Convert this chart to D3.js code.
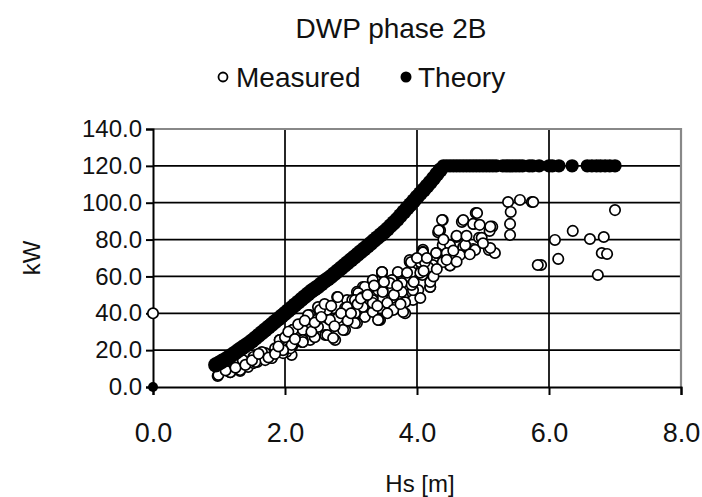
<!DOCTYPE html>
<meta charset="utf-8">
<head>
<title>DWP phase 2B</title>
<script src="https://cdn.jsdelivr.net/npm/d3@7"></script>
<style>
body { margin: 0; background: #fff; }
text { font-family: "Liberation Sans", Arial, sans-serif; fill: #111; }
</style>
</head>
<body>
<script>

// Hs [m] and kW
var measuredHs = [0,
  0.98,1.17,1.32,1.44,1.58,1.80,1.95,2.12,2.10,2.02,2.23,2.12,2.27,1.70,1.62,1.85,1.39,1.09,1.24,1.52,
  0.99,1.17,1.32,1.52,1.80,1.95,2.08,2.26,2.38,2.50,2.64,2.79,2.79,2.61,2.76,2.91,3.09,3.18,3.33,3.44,
  3.47,3.64,3.62,3.82,3.89,3.89,4.02,4.20,4.09,4.35,4.39,4.30,4.50,1.92,2.23,1.97,1.70,1.36,2.50,2.18,
  2.38,2.94,3.03,3.29,3.09,3.33,3.74,3.71,3.94,4.08,4.24,
  2.80,3.47,3.33,3.21,3.41,3.33,3.11,3.06,3.21,3.42,2.91,2.80,2.64,2.48,2.35,2.33,2.45,2.64,2.88,3.09,
  2.26,2.12,2.27,2.68,3.02,3.18,
  2.53,2.73,3.33,3.06,2.94,2.27,2.10,1.92,2.27,1.55,1.65,1.97,
  4.38,4.68,4.32,4.60,4.39,4.65,4.30,4.09,4.05,4.17,3.89,3.92,3.77,3.62,3.47,3.94,4.20,3.33,3.48,3.79,3.55,
  3.18,3.06,3.06,3.33,3.48,3.77,3.59,3.92,4.05,3.82,3.79,3.64,3.41,
  4.89,4.70,4.33,4.60,4.86,5.14,5.10,4.94,5.09,5.18,4.85,4.70,4.50,4.29,4.50,4.39,4.09,4.12,3.91,4.20,4.05,
  5.38,5.56,5.74,5.42,5.41,5.41,4.91,4.85,5.11,4.98,4.73,4.88,5.11,4.65,4.45,
  5.76,7.00,6.36,6.09,6.62,6.83,6.80,6.88,6.14,5.88,6.74,5.83,
  1.10,1.25,1.40,1.50,1.60,1.75,1.85,1.90,2.00,2.05,2.15,2.20,2.30,2.40,2.45,2.55,2.60,2.70,2.75,2.85,
  2.95,3.00,3.10,3.15,3.25,3.35,3.40,3.50,3.55,3.65,3.70,3.75,3.85,3.95,4.00,4.10,4.15,4.25,4.30,4.40,
  4.45,4.55,4.60,4.75,4.80,4.95,5.00];
var measuredKW = [40,
  6,8,8.7,10.9,13.6,15.7,25.5,22.8,17.4,19,29.3,31,32.6,18.4,16.3,21,13.6,11.9,13.6,16.3,
  6.5,8,9.2,13,15.7,24.4,21,24.4,39,32.6,37.4,48.8,37.4,28.2,25.5,31,38,54.3,48.8,36.4,
  62,58,48.3,40,67.8,59.7,52.6,54.3,74.4,85,90.6,72.7,66,25.5,30,18.4,14.6,14.6,43.4,28.2,
  25.5,47.2,43.4,42.9,51.6,57,51,62.4,47.2,60.8,66.2,
  48.8,62.4,57,54.3,52.6,47.2,51,41.8,38,36.4,42.9,37.4,41.8,36.4,39,32,27,28.2,31,34.7,
  24.4,31,31,36.4,47.2,43.4,
  41.8,26.6,40.7,47.2,43.4,25.5,22.8,25.5,24.4,13.6,19,20,
  90.6,89.6,84,81.4,77,72.7,72.7,73.3,67.8,65,68.9,62.4,56.4,58,62.4,52.6,54.3,58,52.6,48.8,45.6,
  48.8,40,34.7,45.6,51.6,51.6,56.4,55.4,48.3,46,40.7,41.8,36.4,
  94.4,90.6,85,82,88.5,87,84.7,81,74.4,72.7,74.9,76,77,72.7,66,67.8,73,67.8,67.8,57,62,
  100.4,101.5,100.4,95,88.5,82.5,94.4,88.5,87,81,77,74.4,75.4,71.6,72.7,
  100.4,96,84.7,79.8,80.3,81.4,72.7,72.2,69.5,66.2,60.8,66.2,
  9,10.5,12,14.5,18,16,18,22,27,30,26,34,36,30,35,38,45,44,33,40,
  36,40,45,48,50,55,44,57,40,50,55,45,62,57,70,63,70,60,64,80,
  69,74,68,82,72,88,78];

var theoryHs = [0,
  0.95,1.00,1.05,1.10,1.15,1.20,1.25,1.30,1.35,1.40,1.45,1.50,1.55,1.60,1.65,1.70,1.75,1.80,1.85,1.90,1.95,
  2.00,2.05,2.10,2.15,2.20,2.25,2.30,2.35,2.40,2.45,2.50,2.55,2.60,2.65,2.70,2.75,2.80,2.85,2.90,2.95,
  3.00,3.05,3.10,3.15,3.20,3.25,3.30,3.35,3.40,3.45,3.50,3.55,3.60,3.65,3.70,3.75,3.80,3.85,3.90,3.95,
  4.00,4.05,4.10,4.15,4.20,4.25,4.30,4.35,4.40,
  4.45,4.50,4.55,4.60,4.65,4.70,4.75,4.80,4.85,4.90,4.95,5.00,5.05,5.10,5.15,5.20,
  5.30,5.35,5.40,5.45,5.50,5.55,5.60,5.70,5.75,5.85,6.00,6.05,6.15,6.35,
  6.58,6.65,6.72,6.78,6.85,6.92,7.00];
var theoryKW = [0,
  12,13,14,15,16.2,17.5,18.7,20,21.2,22.5,23.7,25,26.5,28,29.5,31,32.5,34,35.5,37,38.5,
  40,41.5,43,44.5,46,47.5,49,50.5,52,53.2,54.5,56,57.5,58.7,60,61.5,63,64.5,66,67.5,
  69,70.5,72,73.5,75,76.5,78,79.5,81,82.5,84,85.7,87.5,89.2,91,93,95,97,99,101,
  103,105,107,109,111,113.2,115.5,117.7,120,
  120,120,120,120,120,120,120,120,120,120,120,120,120,120,120,120,
  120,120,120,120,120,120,120,120,120,120,120,120,120,120,
  120,120,120,120,120,120,120];

var xTicks = [0, 2, 4, 6, 8];
var yTicks = [0, 20, 40, 60, 80, 100, 120, 140];

var W = 702, H = 497;
var pl = 153, pr = 681, pt = 129, pb = 387;

var svg = d3.select("body").append("svg").attr("width", W).attr("height", H);

var x = d3.scaleLinear().domain([0, 8]).range([pl, pr]);
var y = d3.scaleLinear().domain([0, 140]).range([pb, pt]);

// grid
svg.append("g").selectAll("line").data(yTicks.slice(1, -1)).enter().append("line")
    .attr("x1", pl).attr("x2", pr)
    .attr("y1", function(d) { return y(d); }).attr("y2", function(d) { return y(d); })
    .style("stroke", "#000").style("stroke-width", 1.7);
svg.append("g").selectAll("line").data(xTicks.slice(1, -1)).enter().append("line")
    .attr("y1", pt).attr("y2", pb)
    .attr("x1", function(d) { return x(d); }).attr("x2", function(d) { return x(d); })
    .style("stroke", "#000").style("stroke-width", 1.7);

// plot frame, grey top and right
svg.append("path")
    .attr("d", "M" + pl + "," + pt + "H" + pr + "V" + pb)
    .style("fill", "none").style("stroke", "#888").style("stroke-width", 2.2);

// axes
var xAxis = svg.append("g").attr("transform", "translate(0," + pb + ")")
    .call(d3.axisBottom(x).tickValues(xTicks).tickFormat(d3.format(".1f")).tickSize(8).tickPadding(28));
var yAxis = svg.append("g").attr("transform", "translate(" + pl + ",0)")
    .call(d3.axisLeft(y).tickValues(yTicks).tickFormat(d3.format(".1f")).tickSize(7).tickPadding(4));
[xAxis, yAxis].forEach(function(a) {
    a.select(".domain").style("stroke", "#000").style("stroke-width", 2);
    a.selectAll(".tick line").style("stroke", "#000").style("stroke-width", 2);
    a.selectAll(".tick text").style("font-size", "24px").style("fill", "#111")
        .style("font-family", "'Liberation Sans', Arial, sans-serif");
});
xAxis.selectAll(".tick text").style("font-size", "27px");

// measured, open circles
svg.append("g").selectAll("circle").data(measuredHs).enter().append("circle")
    .attr("cx", function(d) { return x(d); })
    .attr("cy", function(d, i) { return y(measuredKW[i]); })
    .attr("r", 5.2)
    .style("fill", "#fff").style("stroke", "#000").style("stroke-width", 1.7);

// theory, filled circles (rising part drawn a bit fatter, like the original band)
svg.append("g").selectAll("circle").data(theoryHs).enter().append("circle")
    .attr("cx", function(d) { return x(d); })
    .attr("cy", function(d, i) { return y(theoryKW[i]); })
    .attr("r", function(d, i) { return i === 0 ? 5 : (theoryKW[i] < 120 ? 7.6 : 6.7); })
    .style("fill", "#000");

// title and legend
svg.append("text").attr("x", 391).attr("y", 38).attr("text-anchor", "middle")
    .style("font-size", "28px").text("DWP phase 2B");
svg.append("circle").attr("cx", 223).attr("cy", 77).attr("r", 4.5)
    .style("fill", "#fff").style("stroke", "#000").style("stroke-width", 1.8);
svg.append("text").attr("x", 236).attr("y", 87).style("font-size", "28px").text("Measured");
svg.append("circle").attr("cx", 406).attr("cy", 77).attr("r", 5.5).style("fill", "#000");
svg.append("text").attr("x", 418).attr("y", 87).style("font-size", "28px").text("Theory");

// axis titles
svg.append("text").attr("transform", "translate(40,258) rotate(-90)").attr("text-anchor", "middle")
    .style("font-size", "24px").text("kW");
svg.append("text").attr("x", 420).attr("y", 492).attr("text-anchor", "middle")
    .style("font-size", "24px").text("Hs [m]");

</script>
</body>
</html>
